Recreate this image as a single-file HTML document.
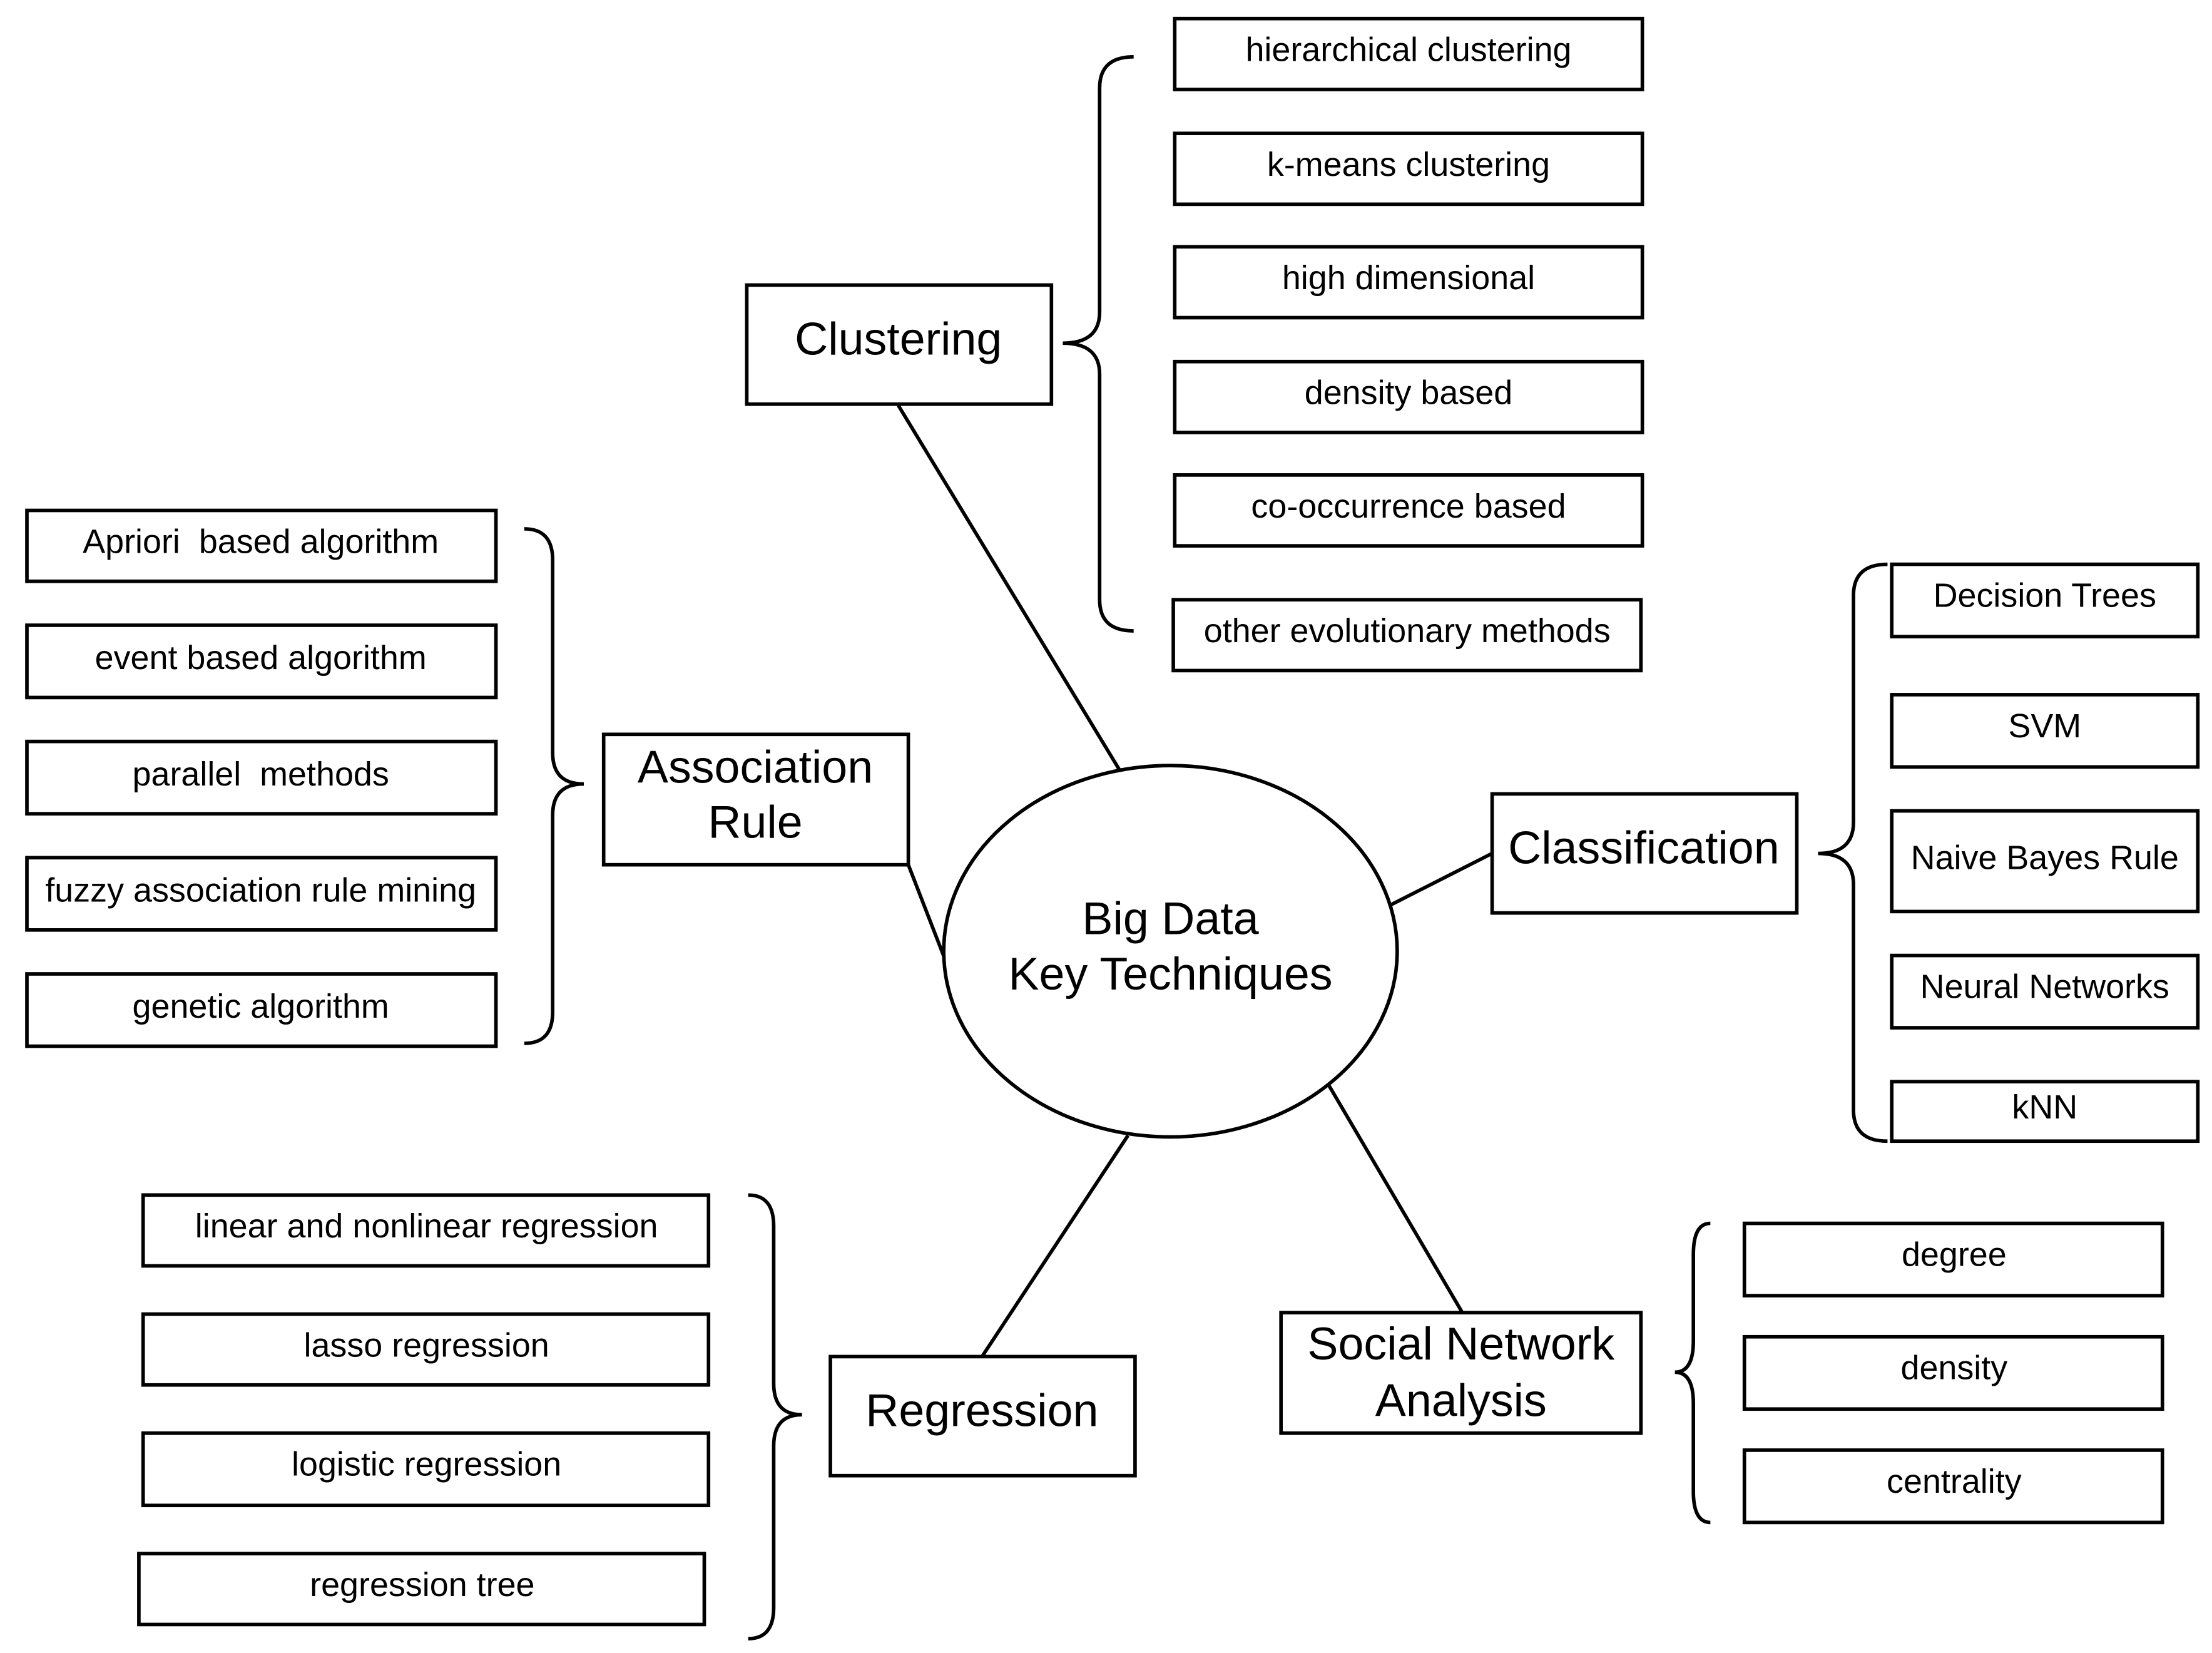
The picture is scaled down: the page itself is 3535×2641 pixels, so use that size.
<!DOCTYPE html>
<html><head><meta charset="utf-8"><style>html,body{margin:0;padding:0;background:#fff}svg{display:block}</style></head>
<body>
<svg width="3535" height="2641" viewBox="0 0 1561 1166" xmlns="http://www.w3.org/2000/svg" font-family="Liberation Sans, sans-serif">
<rect width="1561" height="1166" fill="#fff"/>
<g fill="none" stroke="#000" stroke-width="2.5">
<line x1="634" y1="286" x2="790" y2="543"/>
<line x1="641" y1="610" x2="667" y2="677"/>
<line x1="1053" y1="602" x2="982" y2="638"/>
<line x1="796" y1="801" x2="693" y2="957"/>
<line x1="938" y1="766" x2="1032" y2="926"/>
<ellipse cx="826" cy="671" rx="160" ry="131" fill="#fff"/>
<rect x="527" y="201" width="215" height="84"/>
<rect x="426" y="518" width="215" height="92"/>
<rect x="1053" y="560" width="215" height="84"/>
<rect x="586" y="957" width="215" height="84"/>
<rect x="904" y="926" width="254" height="85"/>
<rect x="829" y="13" width="330" height="50"/>
<rect x="829" y="94" width="330" height="50"/>
<rect x="829" y="174" width="330" height="50"/>
<rect x="829" y="255" width="330" height="50"/>
<rect x="829" y="335" width="330" height="50"/>
<rect x="828" y="423" width="330" height="50"/>
<rect x="19" y="360" width="331" height="50"/>
<rect x="19" y="441" width="331" height="51"/>
<rect x="19" y="523" width="331" height="51"/>
<rect x="19" y="605" width="331" height="51"/>
<rect x="19" y="687" width="331" height="51"/>
<rect x="1335" y="398" width="216" height="51"/>
<rect x="1335" y="490" width="216" height="51"/>
<rect x="1335" y="572" width="216" height="71"/>
<rect x="1335" y="674" width="216" height="51"/>
<rect x="1335" y="763" width="216" height="42"/>
<rect x="101" y="843" width="399" height="50"/>
<rect x="101" y="927" width="399" height="50"/>
<rect x="101" y="1011" width="399" height="51"/>
<rect x="98" y="1096" width="399" height="50"/>
<rect x="1231" y="863" width="295" height="51"/>
<rect x="1231" y="943" width="295" height="51"/>
<rect x="1231" y="1023" width="295" height="51"/>
<path d="M800,40 Q776,40 776,62 L776,220 Q776,242 750,242 Q776,242 776,264 L776,423 Q776,445 800,445"/>
<path d="M370,373 Q390,373 390,395 L390,531 Q390,553 412,553 Q390,553 390,575 L390,714 Q390,736 370,736"/>
<path d="M1332,398 Q1308,398 1308,420 L1308,580 Q1308,602 1283,602 Q1308,602 1308,624 L1308,783 Q1308,805 1332,805"/>
<path d="M528,843 Q546,843 546,865 L546,976 Q546,998 566,998 Q546,998 546,1020 L546,1134 Q546,1156 528,1156"/>
<path d="M1207,863 Q1195,863 1195,885 L1195,946 Q1195,968 1182,968 Q1195,968 1195,990 L1195,1052 Q1195,1074 1207,1074"/>
</g>
<g fill="#000" text-anchor="middle" font-size="32.5">
<text x="634" y="250">Clustering</text>
<text x="533" y="552">Association</text>
<text x="533" y="591">Rule</text>
<text x="1160" y="609">Classification</text>
<text x="693" y="1006">Regression</text>
<text x="1031" y="959">Social Network</text>
<text x="1031" y="999">Analysis</text>
<text x="826" y="659">Big Data</text>
<text x="826" y="698">Key Techniques</text>
</g>
<g fill="#000" text-anchor="middle" font-size="23.8">
<text x="994" y="43">hierarchical clustering</text>
<text x="994" y="124">k-means clustering</text>
<text x="994" y="204">high dimensional</text>
<text x="994" y="285">density based</text>
<text x="994" y="365">co-occurrence based</text>
<text x="993" y="453">other evolutionary methods</text>
<text x="184" y="390" xml:space="preserve">Apriori  based algorithm</text>
<text x="184" y="472">event based algorithm</text>
<text x="184" y="554" xml:space="preserve">parallel  methods</text>
<text x="184" y="636">fuzzy association rule mining</text>
<text x="184" y="718">genetic algorithm</text>
<text x="1443" y="428">Decision Trees</text>
<text x="1443" y="520">SVM</text>
<text x="1443" y="613">Naive Bayes Rule</text>
<text x="1443" y="704">Neural Networks</text>
<text x="1443" y="789">kNN</text>
<text x="301" y="873">linear and nonlinear regression</text>
<text x="301" y="957">lasso regression</text>
<text x="301" y="1041">logistic regression</text>
<text x="298" y="1126">regression tree</text>
<text x="1379" y="893">degree</text>
<text x="1379" y="973">density</text>
<text x="1379" y="1053">centrality</text>
</g>
</svg>
</body></html>
